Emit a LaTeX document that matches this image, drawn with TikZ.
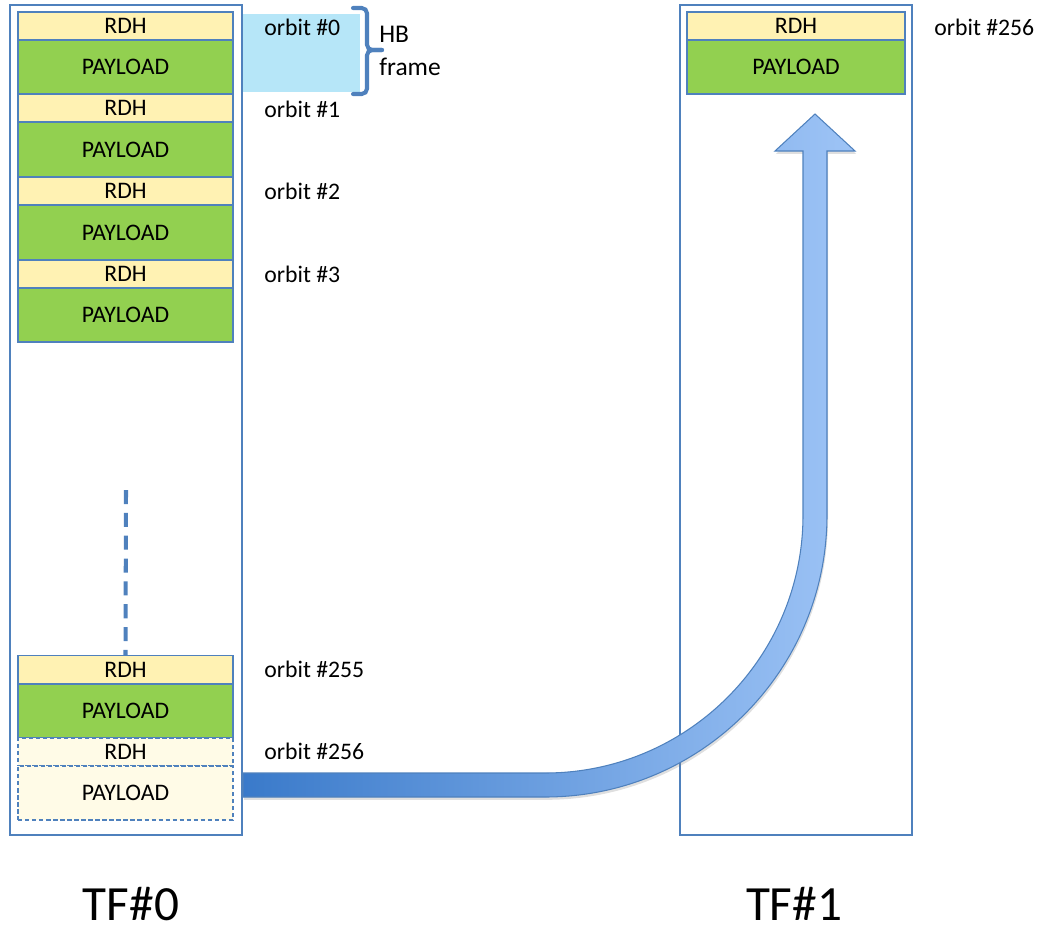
\documentclass[tikz,border=0pt]{standalone}
\usepackage{fontspec}
\setmainfont{Carlito}
\usetikzlibrary{positioning,shadows}

\definecolor{rdhyellow}{RGB}{255,242,179}
\definecolor{paygreen}{RGB}{146,208,80}
\definecolor{ghostfill}{RGB}{255,251,231}
\definecolor{edgeblue}{RGB}{79,129,189}
\definecolor{hbblue}{RGB}{182,230,248}
\definecolor{arrowdark}{RGB}{58,122,202}
\definecolor{arrowlight}{RGB}{158,196,246}

\tikzset{
  tfbox/.style={draw=edgeblue, line width=0.8pt, minimum width=4.64cm, minimum height=16.6cm, inner sep=0pt},
  rdh/.style={draw=edgeblue, line width=0.8pt, fill=rdhyellow, minimum width=4.3cm, minimum height=0.56cm, inner sep=0pt, font=\fontsize{13.5}{15}\selectfont},
  payload/.style={rdh, fill=paygreen, minimum height=1.08cm},
  ghostrdh/.style={rdh, fill=ghostfill, dash pattern=on 2.5pt off 1.5pt},
  ghostpayload/.style={payload, fill=ghostfill, dash pattern=on 2.5pt off 1.5pt},
  orbitlabel/.style={anchor=west, inner sep=0pt, font=\fontsize{13.5}{15}\selectfont},
  hbbrace/.style={draw=edgeblue, line width=2.3pt, rounded corners=3pt, line cap=round},
  tflabel/.style={inner sep=0pt, font=\fontsize{28}{32}\selectfont},
}

\begin{document}
\begin{tikzpicture}[x=0.02cm, y=-0.02cm]

\useasboundingbox (0,0) rectangle (1041,933);

% Time frames
\node[tfbox] (tf0) at (126,420) {};
\node[tfbox] (tf1) at (796,420) {};

% HB frame band
\node[fill=hbblue, minimum width=2.34cm, minimum height=1.56cm, inner sep=0pt, anchor=north west] (hbband) at (243,14) {};

% TF#0 orbits
\node[rdh] (r0) at (125.5,26) {RDH};
\node[payload] (p0) at (125.5,67) {PAYLOAD};
\node[rdh] (r1) at (125.5,108) {RDH};
\node[payload] (p1) at (125.5,149.5) {PAYLOAD};
\node[rdh] (r2) at (125.5,191) {RDH};
\node[payload] (p2) at (125.5,232.5) {PAYLOAD};
\node[rdh] (r3) at (125.5,274) {RDH};
\node[payload] (p3) at (125.5,315) {PAYLOAD};

\node[rdh] (r255) at (125.5,669.5) {RDH};
\node[payload] (p255) at (125.5,711) {PAYLOAD};
\node[ghostrdh] (r256) at (125.5,752) {RDH};
\node[ghostpayload] (p256) at (125.5,793) {PAYLOAD};

% skipped orbits
\coordinate (skip) at (126,490);
\draw[edgeblue, line width=2.3pt, dash pattern=on 8pt off 5pt] (skip) -- (r255.north);

% TF#1 orbit
\node[rdh, minimum width=4.36cm] (rr256) at (796,26) {RDH};
\node[payload, minimum width=4.36cm] (pr256) at (796,67) {PAYLOAD};

% Orbit labels
\node[orbitlabel] (o0) at (264,27) {orbit \#0};
\node[orbitlabel] (o1) at (264,109) {orbit \#1};
\node[orbitlabel] (o2) at (264,191) {orbit \#2};
\node[orbitlabel] (o3) at (264,274) {orbit \#3};
\node[orbitlabel] (o255) at (264,669) {orbit \#255};
\node[orbitlabel] (o256) at (264,751) {orbit \#256};
\node[orbitlabel] (or256) at (934,27) {orbit \#256};

% HB frame brace
\draw[hbbrace] (353,8) -- (367,8) -- (367,50) -- (382,50);
\draw[hbbrace] (353,94) -- (367,94) -- (367,50) -- (382,50);
\node[anchor=west, align=left, inner sep=0pt, font=\fontsize{14.5}{18.7}\selectfont] (hbframe) at (379,51) {HB\\frame};

% Carry-over arrow
\path[draw=edgeblue, line width=0.6pt, left color=arrowdark, right color=arrowlight,
      drop shadow={opacity=0.25, shadow xshift=0.6pt, shadow yshift=-1.6pt}]
  (243,773) -- (545,773) arc[start angle=90, end angle=0, radius=258]
  -- (803,151) -- (775,151) -- (815,114) -- (855,151) -- (827,151)
  -- (827,515) arc[start angle=0, end angle=90, radius=282] -- (243,797) -- cycle;

% Frame names
\node[tflabel] (tfname0) at (131,904) {TF\#0};
\node[tflabel] (tfname1) at (794,904) {TF\#1};

\end{tikzpicture}
\end{document}
